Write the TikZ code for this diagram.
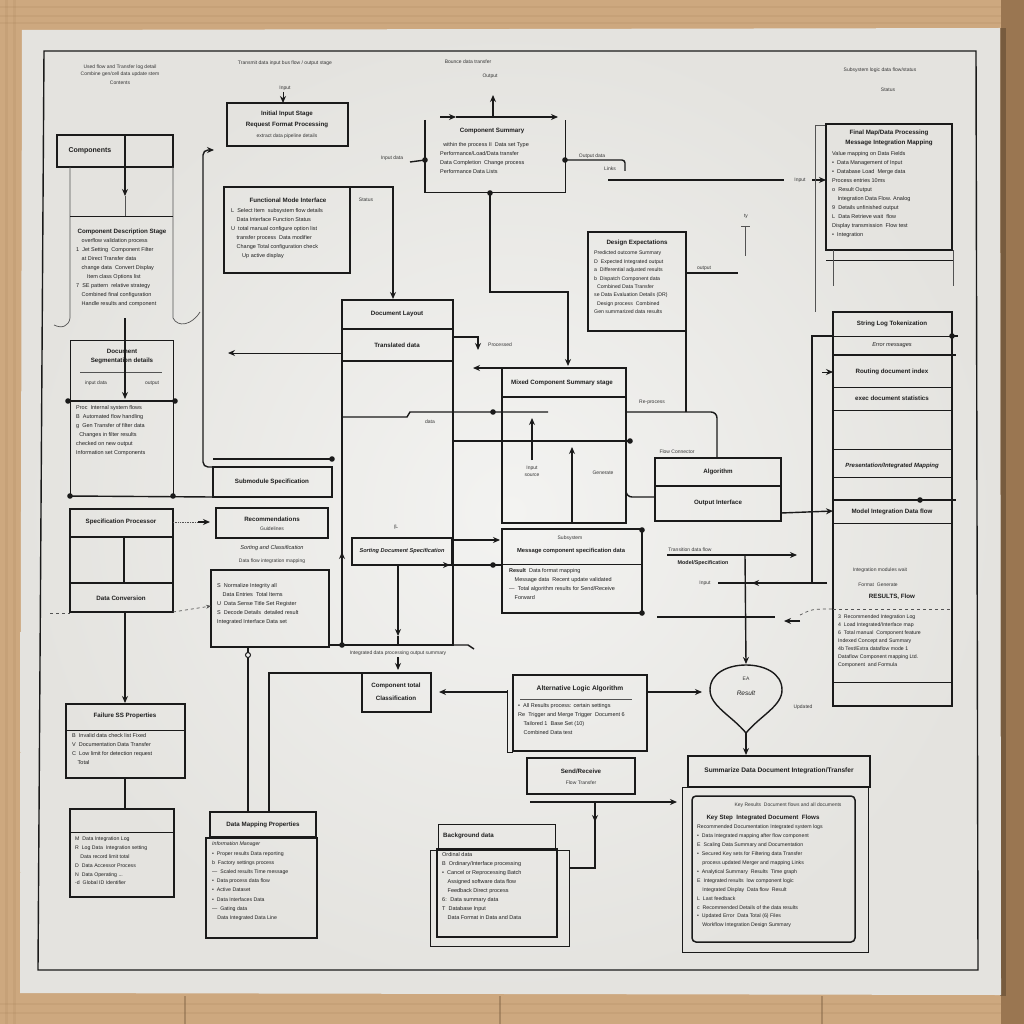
\documentclass[tikz,border=0pt]{standalone}
\usepackage{fontspec}
\setmainfont{Liberation Sans}
\usetikzlibrary{arrows.meta,calc}
\definecolor{ink}{HTML}{1A1A1A}
\definecolor{txt}{HTML}{1F1F1F}
\definecolor{paperin}{HTML}{F3F3F1}
\definecolor{paperout}{HTML}{E4E3DF}
\definecolor{wood}{HTML}{CDA87F}
\definecolor{wooddk}{HTML}{A27B54}
\definecolor{woodrt}{HTML}{9A7651}
\newcommand{\bx}[6][]{\node[boxst,minimum width={(#5-#3)*1pt},minimum height={(#6-#4)*1pt},anchor=north west,#1] (#2) at (#3,#4) {};}
\newcommand{\dt}[1]{\fill[ink] (#1) circle[radius=2.8pt];}
\tikzset{
 boxst/.style={draw=ink,line width=1.5pt,inner sep=0pt,outer sep=0pt},
 thinbox/.style={line width=0.8pt},
 ln/.style={draw=ink,line width=1.4pt},
 tln/.style={draw=ink!75,line width=0.7pt},
 arr/.style={ln,-{Stealth[length=7pt,width=6pt]}},
 hd/.style={text=txt,font=\fontsize{7}{8}\selectfont\bfseries,inner sep=0pt},
 hds/.style={text=txt,font=\fontsize{6.2}{7}\selectfont\bfseries,inner sep=0pt},
 bd/.style={text=txt,font=\fontsize{5.5}{9}\selectfont,inner sep=0pt,align=left,anchor=north west},
 lb/.style={text=txt!90,font=\fontsize{5}{6}\selectfont,inner sep=0pt},
 il/.style={text=txt,font=\fontsize{5.6}{6}\selectfont\itshape,inner sep=0pt}
}
\begin{document}
\begin{tikzpicture}[x=1pt,y=-1pt]
\useasboundingbox (0,0) rectangle (1024,1024);
% ---- wood table
\fill[wood] (0,0) rectangle (1024,1024);
\foreach \yy in {6,15,22} {\fill[wooddk,opacity=.15] (0,\yy) rectangle (1024,\yy+2.5);}
\foreach \xx in {5,13} {\fill[wooddk,opacity=.15] (\xx,0) rectangle (\xx+2.5,1024);}
\foreach \yy in {1003,1012} {\fill[wooddk,opacity=.15] (0,\yy) rectangle (1024,\yy+2);}
\foreach \xx in {185,500,822} {\draw[wooddk!70!black,line width=1.5pt,opacity=.4] (\xx,996) -- (\xx,1024);}
\fill[woodrt] (1001,0) rectangle (1024,1024);
\fill[wooddk!60!black,opacity=.6] (1000,28) rectangle (1006,996);
% ---- paper
\shade[inner color=paperin,outer color=paperout] (22,30) -- (1000,28) -- (1001,995) -- (20,993) -- cycle;
\draw[ink,line width=1.4pt] (44,51) -- (976,51) -- (978,970) -- (38,970) -- cycle;
% ---- top labels
\node[lb] (tl1) at (120,67) {Used flow and Transfer log detail};
\node[lb] (tl2) at (120,74) {Combine gen/cell data update stem};
\node[lb] (tl3) at (120,83) {Contents};
\node[lb] (tl4) at (285,63) {Transmit data input bus flow / output stage};
\node[lb] (tl5) at (285,88) {Input};
\node[lb] (tl6) at (468,62) {Bounce data transfer};
\node[lb] (tl7) at (490,76) {Output};
\node[lb] (tl8) at (880,70) {Subsystem logic data flow/status};
\node[lb] (tl9) at (888,90) {Status};
% ---- B1
\bx{B1}{227}{103}{348}{146}
\node[hds] (B1a) at (287,114) {Initial Input Stage};
\node[hds] (B1b) at (287,125) {Request Format Processing};
\node[lb] (B1c) at (287,136) {extract data pipeline details};
\coordinate (B1in) at (283,92);
\draw[arr,line width=1pt] (B1in) -- (B1.north -| B1in);
% ---- left column
\bx{B2}{57}{135}{173}{167}
\node[hd] (B2t) at (90,151) {Components};
\draw[ln] (125,135) -- (125,167);
\draw[arr] (125,167) -- (125,196);
\draw[tln] (125,196) -- (125,217);
\draw[tln] (70,167) -- (70,318) .. controls (69,326) and (62,329) .. (54,325);
\draw[tln] (173,167) -- (173,318) .. controls (178,328) and (192,325) .. (200,312);
\draw[ln,line width=1pt] (70,217) -- (173,217);
\node[hds] (B2h) at (122,232) {Component Description Stage};
\node[bd] (B2b) at (76,238) {\quad overflow validation process\\1 \ Jet Setting \ Component Filter\\\quad at Direct Transfer data\\\quad change data \ Convert Display\\\qquad Item class Options list\\7 \ SE pattern \ relative strategy\\\quad Combined final configuration\\\quad Handle results and component};
\draw[ln] (125,318) -- (125,340);
\bx[thinbox]{DS}{70}{340}{173}{401}
\node[hds] (DSa) at (122,351) {Document};
\node[hds] (DSb1) at (122,361) {Segmentation details};
\draw[tln] (80,372) -- (162,372);
\node[lb] (DSl1) at (96,383) {input data};
\node[lb] (DSl2) at (152,383) {output};
\draw[arr] (DS.north -| 125,0) -- (125,399);
\bx[thinbox]{DSb}{70}{401}{173}{496}
\draw[ln] (67,401) -- (176,401);
\dt{68,401} \dt{175,401}
\node[bd] (DSt) at (76,405) {Proc \ Internal system flows\\B \ Automated flow handling\\g \ Gen Transfer of filter data\\\ \ Changes in filter results\\checked on new output\\Information set Components};
\bx{SUB}{213}{467}{332}{497}
\node[hds] (SUBt) at (272,482) {Submodule Specification};
\draw[ln] (213,459) -- (332,459);
\dt{332,459}
\draw[ln] (DSb.south west) -- (SUB.south west);
\dt{70,496} \dt{173,496}
\coordinate (brE) at (214,150);
\draw[arr,rounded corners=5pt] (SUB.north west) -| (203,150) -- (brE);
% ---- B3
\bx{B3}{224}{187}{350}{273}
\node[hds] (B3t) at (288,200) {Functional Mode Interface};
\node[bd] (B3b) at (231,208) {L \ Select Item \ subsystem flow details\\\quad Data Interface Function Status\\U \ total manual configure option list\\\quad transfer process \ Data modifier\\\quad Change Total configuration check\\\qquad Up active display};
\node[lb] (B3s) at (366,200) {Status};
\coordinate (b4in) at (393,299);
\draw[arr] (B3.north east) -| (b4in);
% ---- B4
\bx{B4}{342}{300}{453}{645}
\draw[ln] (342,329) -- (453,329);
\draw[ln] (342,361) -- (453,361);
\node[hds] (B4a) at (397,314) {Document Layout};
\node[hds] (B4b) at (397,345) {Translated data};
\coordinate (b4l) at (342,353);
\coordinate (lfA) at (228,353);
\draw[arr,line width=1pt] (b4l) -- (lfA);
\coordinate (b4r) at (453,337);
\coordinate (prc) at (478,350);
\draw[arr,line width=1.1pt] (b4r) -| (prc);
\node[lb] (prcl) at (500,345) {Processed};
\coordinate (d1) at (342,417);
\coordinate (d2) at (548,412);
\draw[ln] (d1) -- (407,417) -- (410,412) -- (d2);
\dt{493,412}
\node[lb] (dlab) at (430,422) {data};
\draw[ln] (454,441) -- (630,441);
\dt{630,441}
% ---- interface box
\bx{IF}{352}{538}{452}{565}
\node[hds,font=\fontsize{5.6}{6}\selectfont\bfseries\itshape] (IFt) at (402,551) {Sorting Document Specification};
\node[lb] (IFl) at (396,527) {(L};
\coordinate (ifo) at (452,540);
\coordinate (c2i) at (500,540);
\draw[arr] (ifo) -- (c2i);
\draw[ln] (IF.south west) -- (502,565);
\draw[arr] (430,565) -- (450,565);
\dt{493,565}
\coordinate (ifb) at (398,565);
\coordinate (b4b) at (398,645);
\draw[arr] (ifb) -- (398,636);
\draw[ln] (398,636) -- (b4b);
\draw[arr] (342,570) -- (342,552);
\draw[ln] (453,645) -- (468,645) -- (474,649);
\node[lb] (intl) at (398,653) {Integrated data processing output summary};
\draw[arr,line width=1.1pt] (398,657) -- (398,670);
% ---- component summary
\node[minimum width=140pt,minimum height=72pt,inner sep=0pt,anchor=north west] (CS) at (425,120) {};
\draw[ln] (CS.north west) -- (CS.south west) -- (CS.south east) -- (CS.north east);
\draw[arr] (440,117) -- (456,117);
\draw[arr] (456,117) -- (558,117);
\draw[arr] (493,117) -- (493,95);
\node[hds] (CSt) at (492,131) {Component Summary};
\node[bd] (CSb) at (440,142) {\ \ within the process II \ Data set Type\\Performance/Load/Data transfer\\Data Completion \ Change process\\Performance Data Lists};
\node[lb] (CSl) at (392,158) {Input data};
\draw[ln] (410,162) -- (425,160);
\dt{425,160}
\dt{565,160}
\draw[ln,rounded corners=3pt] (565,160) -- (625,160) -- (625,171);
\node[lb] (CSr) at (592,156) {Output data};
\node[lb] (CSr2) at (610,169) {Links};
\coordinate (csb) at (490,192);
\coordinate (c1in) at (568,366);
\dt{490,193}
\draw[arr] (csb) |- (568,292) -- (c1in);
\coordinate (lnA) at (608,180);
\coordinate (lnB) at (784,180);
\draw[ln] (lnA) -- (lnB);
\node[lb] (lnL) at (800,180) {Input};
\coordinate (dmi) at (826,180);
\draw[arr] (812,180) -- (dmi);
% ---- expected
\bx{EX}{588}{232}{686}{331}
\node[hds] (EXt) at (637,243) {Design Expectations};
\node[bd,font=\fontsize{5.2}{8.4}\selectfont] (EXb) at (594,251) {Predicted outcome Summary\\D \ Expected Integrated output\\a \ Differential adjusted results\\b \ Dispatch Component data\\\ \ Combined Data Transfer\\se Data Evaluation Details (DR)\\\ \ Design process \ Combined\\Gen summarized data results};
\coordinate (exo) at (738,273);
\draw[ln] (686,273) -- (exo);
\node[lb] (exl) at (704,268) {output};
\draw[ln] (EX.south east) -- (686,412);
\draw[tln] (741,226) -- (750,226);
\draw[tln] (745,226) -- (745,256);
\node[lb] (tyl) at (746,216) {ty};
% ---- C1, C2
\bx{C1}{502}{368}{626}{523}
\draw[ln] (502,397) -- (626,397);
\node[hds] (C1t) at (562,383) {Mixed Component Summary stage};
\coordinate (c1lA) at (473,368);
\draw[arr] (C1.north west) -- (c1lA);
\draw[arr,line width=1.1pt] (532,460) -- (532,418);
\node[lb] (C1l1) at (532,468) {Input};
\node[lb] (C1l2) at (532,475) {source};
\draw[arr,line width=1.1pt] (572,523) -- (572,447);
\node[lb] (C1l3) at (603,473) {Generate};
\bx{C2}{502}{529}{642}{613}
\node[lb] (C2s) at (570,538) {Subsystem};
\node[hds,font=\fontsize{5.8}{6}\selectfont\bfseries] (C2t) at (571,551) {Message component specification data};
\draw[ln,line width=1pt] (502,564) -- (642,564);
\node[bd] (C2b) at (509,568) {\textbf{Result} \ Data format mapping\\\quad Message data \ Recent update validated\\— \ Total algorithm results for Send/Receive\\\quad Forward};
\dt{642,530} \dt{642,613}
% ---- right of C1
\coordinate (c1r) at (626,412);
\coordinate (altop) at (717,458);
\coordinate (alw) at (655,497);
\draw[ln,rounded corners=6pt] (c1r) -| (altop);
\draw[ln,rounded corners=6pt] (c1r) |- (alw);
\node[lb] (rpl) at (652,402) {Re-process};
\bx{AL}{655}{458}{781}{521}
\draw[ln] (655,486) -- (781,486);
\node[hds] (ALa) at (718,472) {Algorithm};
\node[hds] (ALb) at (718,503) {Output Interface};
\node[lb] (ALl) at (677,452) {Flow Connector};
\coordinate (alo) at (781,513);
\coordinate (rci) at (833,511);
\draw[arr] (alo) -- (rci);
% ---- data mapping (top right)
\draw[tln] (815,125) -- (815,312);
\draw[tln] (815,125) -- (826,125);
\bx{DM}{826}{124}{952}{250}
\draw[ln,line width=1pt] (826,260) -- (953,260);
\draw[tln] (833,250) -- (833,286);
\draw[tln] (953,250) -- (953,286);
\node[hds] (DMa) at (889,133) {Final Map/Data Processing};
\node[hds] (DMb) at (889,143) {Message Integration Mapping};
\node[bd] (DMt) at (832,151) {Value mapping on Data Fields\\• \ Data Management of Input\\• \ Database Load \ Merge data\\Process entries 10ms\\o \ Result Output\\\quad Integration Data Flow. Analog\\9 \ Details unfinished output\\L \ Data Retrieve wait \ flow\\Display transmission \ Flow test\\• \ Integration};
% ---- right column
\bx{RC}{833}{312}{952}{706}
\foreach \yy/\ww in {336/1,387/1,410/1,449/1,477/1,523/1,682/1} {\draw[ln,line width=\ww pt] (833,\yy) -- (952,\yy);}
\draw[ln,line width=2pt] (833,355) -- (956,355);
\draw[ln,line width=2pt] (833,500) -- (956,500);
\dt{920,500}
\dt{952,336}
\draw[ln] (952,336) -- (958,336);
\node[hds] (RC1) at (892,324) {String Log Tokenization};
\node[il] (RC2) at (892,345) {Error messages};
\node[hds] (RC3) at (892,372) {Routing document index};
\node[hds] (RC4) at (892,398) {exec document statistics};
\node[hds,font=\fontsize{6}{7}\selectfont\bfseries\itshape] (RC5) at (892,466) {Presentation/Integrated Mapping};
\node[hds] (RC6) at (892,512) {Model Integration Data flow};
\node[lb] (RC7) at (880,570) {Integration modules wait};
\node[lb] (RC8) at (878,585) {Format \ Generate};
\node[hds] (RC9) at (892,597) {RESULTS, Flow};
\node[bd,font=\fontsize{5.2}{7.9}\selectfont] (RCb) at (838,615) {3 \ Recommended Integration Log\\4 \ Load Integrated/Interface map\\6 \ Total manual \ Component feature\\Indexed Concept and Summary\\4b Test/Extra dataflow mode 1\\Dataflow Component mapping Ltd.\\Component \ and Formula};
\coordinate (v812a) at (833,336);
\coordinate (v812b) at (718,583);
\draw[ln] (v812a) -- (812,336) -- (812,583);
\draw[ln] (827,583) -- (v812b);
\draw[arr] (800,583) -- (752,583);
\node[lb] (inl) at (705,583) {Input};
\coordinate (rc372) at (833,372);
\draw[arr,line width=1pt] (822,372) -- (rc372);
\coordinate (m555a) at (667,555);
\coordinate (m555b) at (797,555);
\draw[arr] (m555a) -- (m555b);
\node[lb] (m1) at (690,550) {Transition data flow};
\node[hds,font=\fontsize{5.4}{6}\selectfont\bfseries] (m2) at (703,563) {Model/Specification};
\draw[ln] (657,617) -- (775,617);
\draw[arr] (800,621) -- (784,621);
\draw[tln,dashed] (800,615) .. controls (812,609) .. (833,609);
\draw[tln,dashed] (833,609) -- (952,609);
% ---- teardrop
\coordinate (v745) at (745,555);
\coordinate (tdtop) at (746,664);
\coordinate (tdbot) at (746,733);
\draw[arr] (v745) -- (tdtop);
\draw[ln] (tdbot) .. controls (732,716) and (710,706) .. (710,690) .. controls (710,673) and (728,665) .. (746,665) .. controls (764,665) and (782,673) .. (782,690) .. controls (782,706) and (760,716) .. (tdbot);
\node[lb] (tdl1) at (746,679) {EA};
\node[il,font=\fontsize{6.5}{7}\selectfont\itshape] (tdl2) at (746,693) {Result};
\node[lb] (tdl3) at (803,707) {Updated};
\coordinate (smin) at (746,755);
\draw[arr] (tdbot) -- (smin);
% ---- ALT
\bx{ALT}{513}{675}{647}{751}
\draw[ln,line width=1pt] (507,690) -- (507,752) -- (513,752);
\node[hds,font=\fontsize{6.6}{7}\selectfont\bfseries] (ALTt) at (580,689) {Alternative Logic Algorithm};
\draw[tln] (520,699) -- (632,699);
\node[bd] (ALTb) at (518,703) {• \ All Results process: certain settings\\Re \ Trigger and Merge Trigger \ Document 6\\\quad Tailored 1 \ Base Set (10)\\\quad Combined Data test};
\coordinate (altr) at (647,692);
\coordinate (tdl) at (702,692);
\draw[arr] (altr) -- (tdl);
\coordinate (altl) at (507,692);
\coordinate (ccr) at (439,692);
\draw[arr] (altl) -- (ccr);
% ---- CC
\bx{CC}{362}{673}{431}{712}
\node[hds] (CCa) at (396,686) {Component total};
\node[hds] (CCb) at (396,698) {Classification};
\coordinate (dpt1) at (269,812);
\draw[ln] (CC.north west) -| (dpt1);
% ---- SR
\bx{SR}{527}{758}{635}{794}
\node[hds] (SRa) at (581,771) {Send/Receive};
\node[lb] (SRb) at (581,783) {Flow Transfer};
\coordinate (sr1) at (530,802);
\coordinate (sr2) at (677,802);
\draw[arr] (sr1) -- (sr2);
\coordinate (bgr) at (569,868);
\draw[ln] (595,802) |- (bgr);
\draw[arr,line width=1pt] (595,806) -- (595,822);
% ---- BG
\bx[thinbox]{BGo}{430}{850}{569}{946}
\bx[thinbox]{BGh}{438}{824}{555}{849}
\bx{BGi}{437}{849}{557}{937}
\node[hds,anchor=west] (BGt) at (443,836) {Background data};
\node[bd] (BGb) at (442,852) {Ordinal data\\B \ Ordinary/Interface processing\\• \ Cancel or Reprocessing Batch\\\quad Assigned software data flow\\\quad Feedback Direct process\\6: \ Data summary data\\T \ Database Input\\\quad Data Format in Data and Data};
% ---- SM
\bx{SMh}{688}{756}{870}{787}
\bx[thinbox]{SMo}{682}{787}{868}{952}
\bx[rounded corners=4pt]{SMi}{692}{796}{855}{942}
\node[hds,font=\fontsize{6.6}{7}\selectfont\bfseries] (SMt) at (779,771) {Summarize Data Document Integration/Transfer};
\node[lb] (SMs) at (788,805) {Key Results \ Document flows and all documents};
\node[hds,font=\fontsize{6.2}{7}\selectfont\bfseries] (SMk) at (763,818) {Key Step \ Integrated Document \ Flows};
\node[bd,font=\fontsize{5.2}{8.9}\selectfont] (SMb) at (697,825) {Recommended Documentation Integrated system logs\\• \ Data Integrated mapping after flow component\\E \ Scaling Data Summary and Documentation\\• \ Secured Key sets for Filtering data Transfer\\\quad process updated Merger and mapping Links\\• \ Analytical Summary \ Results \ Time graph\\E \ Integrated results \ low component logic\\\quad Integrated Display \ Data flow \ Result\\L \ Last feedback\\c \ Recommended Details of the data results\\• \ Updated Error \ Data Total (6) Files\\\quad Workflow Integration Design Summary};
% ---- SP / REC / DL
\bx{SP}{70}{509}{173}{612}
\draw[ln] (70,537) -- (173,537);
\draw[ln] (70,583) -- (173,583);
\draw[ln] (124,537) -- (124,583);
\node[hds] (SPt) at (121,522) {Specification Processor};
\node[hds] (DCt) at (121,598) {Data Conversion};
\draw[tln,dashed] (50,613) -- (70,613);
\bx{REC}{216}{508}{328}{538}
\node[hds] (RECa) at (272,519) {Recommendations};
\node[lb] (RECb) at (272,529) {Guidelines};
\node[il] (RECc) at (272,548) {Sorting and Classification};
\node[lb] (RECd) at (272,561) {Data flow integration mapping};
\coordinate (spo) at (173,522);
\coordinate (reci) at (210,522);
\draw[tln,densely dotted] (spo) -- (198,522);
\draw[arr] (198,522) -- (reci);
\bx{DL}{211}{570}{329}{647}
\node[bd] (DLb) at (217,583) {S \ Normalize Integrity all\\\quad Data Entries \ Total Items\\U \ Data Sense Title Set Register\\S \ Decode Details \ detailed result\\Integrated Interface Data set};
\coordinate (dco) at (173,612);
\coordinate (dli) at (211,606);
\draw[tln,dashed,-{Stealth[length=5pt,width=4pt]}] (dco) -- (dli);
\coordinate (dlr) at (329,645);
\draw[ln] (dlr) -- (342,645);
\dt{342,645}
% ---- FS / LG
\bx{FS}{66}{704}{185}{778}
\draw[ln,line width=1pt] (66,730) -- (185,730);
\node[hds] (FSt) at (125,716) {Failure SS Properties};
\node[bd] (FSb) at (72,733) {B \ Invalid data check list Fixed\\V \ Documentation Data Transfer\\C \ Low limit for detection request\\\quad Total};
\coordinate (spb) at (125,612);
\coordinate (fsin) at (125,703);
\draw[arr] (spb) -- (fsin);
\bx{LG}{70}{809}{174}{897}
\draw[ln,line width=1pt] (70,832) -- (174,832);
\node[bd,font=\fontsize{5.2}{8.8}\selectfont] (LGb) at (75,837) {M \ Data Integration Log\\R \ Log Data \ Integration setting\\\quad Data record limit total\\D \ Data Accessor Process\\N \ Data Operating ...\\-d \ Global ID Identifier};
\draw[ln] (FS.south -| 125,0) -- (125,809);
% ---- DP
\bx{DPh}{210}{812}{316}{837}
\bx{DPb}{206}{838}{317}{938}
\node[hds] (DPt) at (263,825) {Data Mapping Properties};
\node[bd,font=\fontsize{5.2}{9.2}\selectfont] (DPbt) at (212,842) {\textit{Information Manager}\\• \ Proper results Data reporting\\b \ Factory settings process\\— \ Scaled results Time message\\• \ Data process data flow\\• \ Active Dataset\\• \ Data Interfaces Data\\— \ Gating data\\\quad Data Integrated Data Line};
\coordinate (dlb) at (248,647);
\coordinate (dpt2) at (248,812);
\draw[ln] (dlb) -- (dpt2);
\draw[ink,fill=paperin,line width=1pt] (248,655) circle[radius=2.5pt];
\end{tikzpicture}
\end{document}
